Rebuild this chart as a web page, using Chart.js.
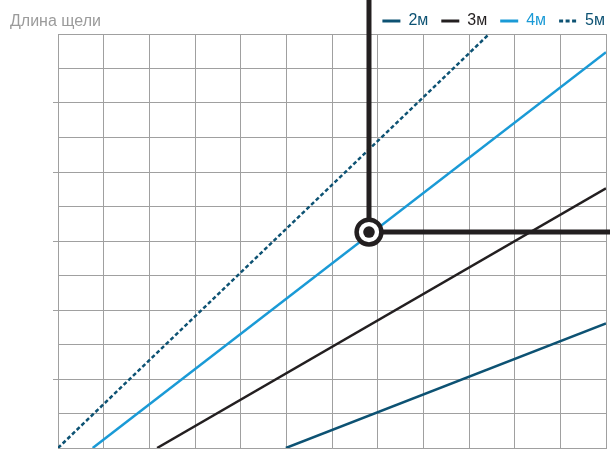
<!DOCTYPE html>
<html>
<head>
<meta charset="utf-8">
<script src="https://cdn.jsdelivr.net/npm/chart.js@4"></script>
<style>
  html, body { margin: 0; padding: 0; background: #fff; }
</style>
</head>
<body>
<canvas id="chart" width="610" height="449"></canvas>
<script>
// серии: длина щели по отрезкам
const seriesNames = ['2м', '3м', '4м', '5м']
const seriesColors = ['#0d5273', '#231f20', '#1a9ad6', '#0d5273']
const line2x = [4.99, 12]
const line2y = [0, 3.61]
const line3x = [2.17, 12]
const line3y = [0, 7.53]
const line4x = [0.76, 12]
const line4y = [0, 11.47]
const line5x = [0, 9.44]
const line5y = [0, 12]
// отмеченная точка
const markX = [6.81]
const markY = [6.26]

const xs = [line2x, line3x, line4x, line5x]
const ys = [line2y, line3y, line4y, line5y]
const gridColor = '#a0a0a0'
const font = '"Liberation Sans", Arial, sans-serif'

const datasets = seriesNames.map((name, i) => ({
  label: name,
  data: xs[i].map((v, j) => ({ x: v, y: ys[i][j] })),
  borderColor: seriesColors[i],
  borderWidth: 2.5,
  borderDash: i === 3 ? [4, 2.5] : [],
  pointRadius: 0,
  tension: 0,
}))

const axisTitle = {
  id: 'axisTitle',
  afterDraw(chart) {
    const ctx = chart.ctx
    ctx.save()
    ctx.font = '16px ' + font
    ctx.fillStyle = '#9b9b9b'
    ctx.textBaseline = 'alphabetic'
    ctx.fillText('Длина щели', 10, 25.5)
    ctx.restore()
  }
}

const marker = {
  id: 'marker',
  afterDatasetsDraw(chart) {
    const { ctx, scales: { x, y } } = chart
    const px = x.getPixelForValue(markX[0])
    const py = y.getPixelForValue(markY[0])
    ctx.save()
    ctx.strokeStyle = '#231f20'
    ctx.lineWidth = 5
    ctx.beginPath()
    ctx.moveTo(px, 0)
    ctx.lineTo(px, py)
    ctx.moveTo(px, py)
    ctx.lineTo(chart.width, py)
    ctx.stroke()
    ctx.beginPath()
    ctx.arc(px, py, 12.4, 0, Math.PI * 2)
    ctx.fillStyle = '#fff'
    ctx.fill()
    ctx.lineWidth = 4.5
    ctx.stroke()
    ctx.beginPath()
    ctx.arc(px, py, 5.8, 0, Math.PI * 2)
    ctx.fillStyle = '#231f20'
    ctx.fill()
    ctx.restore()
  }
}

// сдвиг легенды вправо, к краю
const legendShift = {
  id: 'legendShift',
  afterLayout(chart) {
    chart.legend.left += 12
    chart.legend.right += 12
  }
}

new Chart(document.getElementById('chart'), {
  type: 'line',
  data: { datasets },
  plugins: [axisTitle, marker, legendShift],
  options: {
    responsive: false,
    animation: false,
    layout: { padding: { left: 53, right: 4, top: 0, bottom: 1 } },
    plugins: {
      tooltip: { enabled: false },
      legend: {
        position: 'top',
        align: 'end',
        maxHeight: 34,
        labels: {
          font: { family: font, size: 16 },
          usePointStyle: true,
          pointStyleWidth: 18,
          padding: 13,
          generateLabels: (chart) => chart.data.datasets.map((ds, i) => ({
            text: ds.label,
            fillStyle: ds.borderColor,
            strokeStyle: ds.borderColor,
            fontColor: ds.borderColor,
            lineWidth: 3,
            lineDash: ds.borderDash,
            pointStyle: 'line',
            hidden: false,
            datasetIndex: i,
          })),
        },
      },
    },
    scales: {
      x: {
        type: 'linear',
        min: 0,
        max: 12,
        ticks: { display: false, stepSize: 1, maxTicksLimit: 20 },
        grid: { color: gridColor, lineWidth: 1, drawTicks: false },
        border: { color: gridColor },
      },
      y: {
        type: 'linear',
        min: 0,
        max: 12,
        ticks: { display: false, stepSize: 1, maxTicksLimit: 20 },
        grid: {
          color: gridColor,
          lineWidth: 1,
          drawTicks: true,
          tickLength: 5,
          tickColor: (c) => (c.tick && c.tick.value % 2 === 0 && c.tick.value > 0 && c.tick.value < 12) ? gridColor : 'rgba(0,0,0,0)',
        },
        border: { color: gridColor },
      },
    },
  },
})
</script>
</body>
</html>
